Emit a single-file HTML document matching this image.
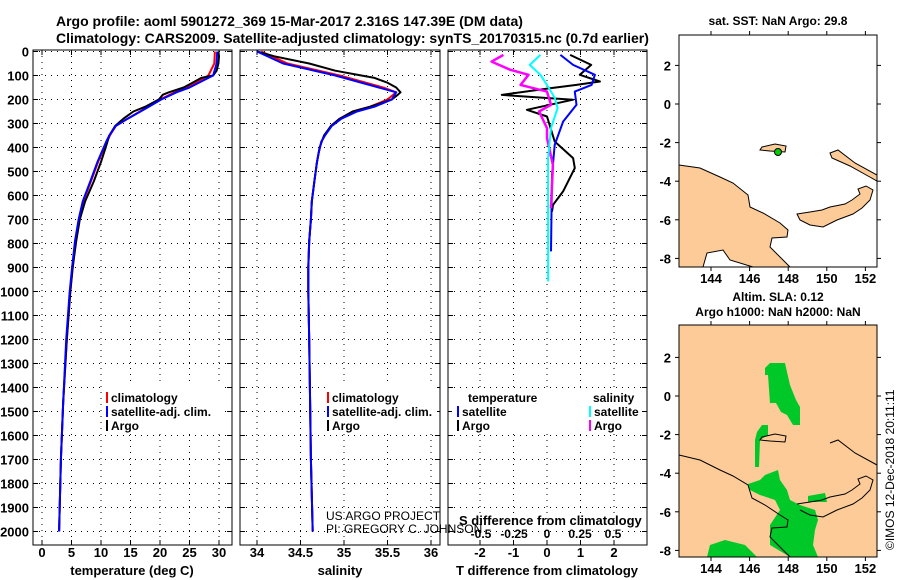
<!DOCTYPE html>
<html><head><meta charset="utf-8"><style>
body{margin:0;background:#fff;}
svg{display:block;font-family:"Liberation Sans",sans-serif;font-weight:bold;}
</style></head><body>
<svg id="fig" width="900" height="580" viewBox="0 0 900 580" xmlns="http://www.w3.org/2000/svg">
<text x="56" y="26" font-size="14">Argo profile: aoml 5901272_369 15-Mar-2017 2.316S 147.39E (DM data)</text>
<text x="56" y="43" font-size="14">Climatology: CARS2009. Satellite-adjusted climatology: synTS_20170315.nc (0.7d earlier)</text>
<g id="p1"></g>
<g id="p2"></g>
<g id="p3"></g>
<g id="m1"></g>
<g id="m2"></g>
</svg>
<script>
// ---- data ----
const depths = [0,50,100,150,170,200,230,250,280,310,350,375,420,460,540,625,700,790,900,1000,1200,1460,1700,2000];
const tempClim = [29.3,29.2,28.2,24.5,22.5,20,18,16.6,14.5,12.5,11.5,11,10.2,9.5,8.3,7,6.3,5.7,5.2,4.8,4.2,3.6,3.2,2.9];
const tempSat = [29.7,29.6,29,25,22.8,20.2,18.1,16.7,14.5,12.5,11.4,10.9,10.1,9.4,8.2,6.9,6.2,5.6,5.1,4.7,4.1,3.6,3.2,2.9];
const argoDepths = [0,20,50,80,100,110,130,150,170,180,200,230,250,280,310,350,400,460,540,625,700,790,900,1000,1200,1460,1700,2000];
const tempArgo = [29.9,30,29.9,29.6,29,27,25.5,24,21.5,20.5,19.8,17.5,15.5,13.8,12.4,11.4,10.8,10,8.8,7.3,6.4,5.8,5.2,4.8,4.2,3.6,3.2,2.9];
const salClim = [34.05,34.35,34.95,35.45,35.6,35.5,35.3,35.1,34.95,34.85,34.78,34.74,34.71,34.69,34.66,34.63,34.62,34.6,34.59,34.59,34.6,34.61,34.62,34.64];
const salSat = [34.0,34.3,34.9,35.4,35.6,35.55,35.35,35.15,34.97,34.86,34.78,34.74,34.71,34.69,34.66,34.63,34.62,34.6,34.59,34.59,34.6,34.61,34.62,34.64];
const salArgo = [34.0,34.2,34.6,34.9,35.2,35.35,35.5,35.6,35.65,35.62,35.55,35.3,35.1,34.95,34.85,34.77,34.72,34.69,34.66,34.63,34.62,34.6,34.59,34.59,34.6,34.61,34.62,34.64];
const dDepthArgoT = [14,56,97,125,139,153,181,201,243,271,375,444,486,583,639,667];
const dArgoT = [0.69,1.32,0.98,1.58,0.88,0.09,-1.35,0.78,-0.6,0,0.23,0.78,0.83,0.48,0.18,0.15];
const dDepthSatT = [14,56,97,139,167,222,292,389,514,833];
const dSatT = [0.4,0.78,1.43,1.33,0.83,0.88,0.48,0.23,0.15,0.12];
const dDepthSatS = [14,56,97,139,194,236,319,444,958];
const dSatS = [-0.05,-0.13,-0.05,0,0.06,0.08,0.03,0.008,0.008];
const dDepthArgoS = [14,42,76,97,139,167,222,250,319,361,472,653];
const dArgoS = [-0.33,-0.42,-0.28,-0.14,-0.2,0,0.03,-0.06,0,0,0.045,0.03];
const depthTicks = [0,100,200,300,400,500,600,700,800,900,1000,1100,1200,1300,1400,1500,1600,1700,1800,1900,2000];
const tTicks = [0,5,10,15,20,25,30];
const sTicks = [34,34.5,35,35.5,36];
const sTickLabels = ['34','34.5','35','35.5','36'];
const dTTicks = [-2,-1,0,1,2];
const dSTicks = [-0.5,-0.25,0,0.25,0.5];
const dSTickLabels = ['-0.5','-0.25','0','0.25','0.5'];
const lonTicks = [144,146,148,150,152];
const latTicks = [2,0,-2,-4,-6,-8];

const NS='http://www.w3.org/2000/svg';
function mk(parent,tag,attrs,name,text){
  const e=document.createElementNS(NS,tag);
  for(const k in attrs)e.setAttribute(k,attrs[k]);
  
  
  if(text!==undefined)e.textContent=text;
  parent.appendChild(e);return e;
}
const yD=d=>51.5+d*0.24;
function panel(g,x0,x1){
  mk(g,'rect',{x:x0,y:50,width:x1-x0,height:495,fill:'none',stroke:'#000','stroke-width':1},'plot-frame');
}
function hgrid(g,x0,x1,labels){
  depthTicks.forEach(d=>{
    const y=yD(d);
    mk(g,'line',{x1:x0,x2:x1,y1:y,y2:y,stroke:'#000','stroke-dasharray':'1,5','stroke-width':1},'depth-grid-line');
    mk(g,'line',{x1:x0,x2:x0+5,y1:y,y2:y,stroke:'#000'},'depth-tick');
    mk(g,'line',{x1:x1-5,x2:x1,y1:y,y2:y,stroke:'#000'},'depth-tick');
    if(labels)mk(g,'text',{x:x0-4,y:y+5,'font-size':13,'text-anchor':'end'},'depth-tick-label',String(d));
  });
}
function vgrid(g,ticks,fx,lab,ly){
  ticks.forEach((t,i)=>{
    const x=fx(t);
    mk(g,'line',{x1:x,x2:x,y1:50,y2:545,stroke:'#000','stroke-dasharray':'1,5'},'x-grid-line');
    mk(g,'line',{x1:x,x2:x,y1:540,y2:545,stroke:'#000'},'x-tick');
    mk(g,'line',{x1:x,x2:x,y1:50,y2:55,stroke:'#000'},'x-tick');
    if(lab)mk(g,'text',{x:x,y:ly,'font-size':13,'text-anchor':'middle'},'x-tick-label',lab[i]);
  });
}
function line(g,xs,ds,fx,col,w,name){
  const pts=xs.map((v,i)=>fx(v).toFixed(1)+','+yD(ds[i]).toFixed(1)).join(' ');
  mk(g,'polyline',{points:pts,fill:'none',stroke:col,'stroke-width':w,'stroke-linejoin':'round'},name);
}
function legend(g,x,y,col,txt,name){
  mk(g,'line',{x1:x,x2:x,y1:y-10,y2:y+1,stroke:col,'stroke-width':2},name+'-swatch');
  mk(g,'text',{x:x+4,y:y,'font-size':12},name+'-label',txt);
}
// Panel 1
const p1=document.getElementById('p1');
const xT=t=>42+t*5.9;
hgrid(p1,33,232,true);
vgrid(p1,tTicks,xT,tTicks.map(String),557);
line(p1,tempClim,depths,xT,'#f00',2,'climatology-temperature-line');
line(p1,tempArgo,argoDepths,xT,'#000',2,'argo-temperature-line');
line(p1,tempSat,depths,xT,'#00f',2,'satellite-temperature-line');
panel(p1,33,232);
mk(p1,'rect',{x:104,y:386,width:118,height:48,fill:'#fff'},'legend-bg');
legend(p1,107,402,'#f00','climatology','legend-climatology');
legend(p1,107,416,'#00f','satellite-adj. clim.','legend-satellite');
legend(p1,107,430,'#000','Argo','legend-argo');
mk(p1,'text',{x:132,y:575,'font-size':13,'text-anchor':'middle'},'x-axis-title','temperature (deg C)');
// Panel 2
const p2=document.getElementById('p2');
const xS=s=>257+(s-34)*87;
hgrid(p2,240,440,false);
vgrid(p2,sTicks,xS,sTickLabels,557);
line(p2,salClim,depths,xS,'#f00',2,'climatology-salinity-line');
line(p2,salArgo,argoDepths,xS,'#000',2,'argo-salinity-line');
line(p2,salSat,depths,xS,'#00f',2,'satellite-salinity-line');
panel(p2,240,440);
mk(p2,'rect',{x:325,y:386,width:112,height:48,fill:'#fff'},'legend-bg');
legend(p2,328,402,'#f00','climatology','legend-climatology');
legend(p2,328,416,'#00f','satellite-adj. clim.','legend-satellite');
legend(p2,328,430,'#000','Argo','legend-argo');
mk(p2,'text',{x:340,y:575,'font-size':13,'text-anchor':'middle'},'x-axis-title','salinity');
// Panel 3
const p3=document.getElementById('p3');
const xDT=t=>547+t*33.5;
const xDS=s=>547+s*132;
hgrid(p3,448,647,false);
vgrid(p3,dTTicks,xDT,dTTicks.map(String),557);
line(p3,dArgoT,dDepthArgoT,xDT,'#000',2,'argo-t-diff-line');
line(p3,dSatT,dDepthSatT,xDT,'#00f',2,'satellite-t-diff-line');
line(p3,dArgoS,dDepthArgoS,xDS,'#f0f',2.5,'argo-s-diff-line');
line(p3,dSatS,dDepthSatS,xDS,'#0ff',2,'satellite-s-diff-line');
panel(p3,448,647);
dSTicks.forEach((t,i)=>mk(p3,'text',{x:xDS(t),y:538,'font-size':12,'text-anchor':'middle'},'s-diff-tick-label',dSTickLabels[i]));
mk(p3,'rect',{x:452,y:390,width:190,height:44,fill:'#fff'},'legend-bg');
mk(p3,'text',{x:468,y:402,'font-size':12},'legend-temperature-header','temperature');
mk(p3,'text',{x:593,y:402,'font-size':12},'legend-salinity-header','salinity');
legend(p3,458,416,'#00f','satellite','legend-t-satellite');
legend(p3,458,430,'#000','Argo','legend-t-argo');
legend(p3,590,416,'#0ff','satellite','legend-s-satellite');
legend(p3,590,430,'#f0f','Argo','legend-s-argo');
mk(p3,'text',{x:459,y:525,'font-size':13},'s-diff-axis-title','S difference from climatology');
mk(p3,'text',{x:547,y:575,'font-size':13,'text-anchor':'middle'},'t-diff-axis-title','T difference from climatology');
mk(p3,'text',{x:326,y:520,'font-size':12,'font-weight':'normal'},'credit-project','US ARGO PROJECT');
mk(p3,'text',{x:326,y:533,'font-size':12,'font-weight':'normal'},'credit-pi','PI: GREGORY C. JOHNSON');
// Maps
const xLon=l=>711+(l-144)*19.3;
function mapAxes(g,y0,y1,yLat){
  lonTicks.forEach(l=>{
    const x=xLon(l);
    mk(g,'line',{x1:x,x2:x,y1:y0-4,y2:y0,stroke:'#000'},'lon-tick');
    mk(g,'line',{x1:x,x2:x,y1:y1,y2:y1+4,stroke:'#000'},'lon-tick');
    mk(g,'text',{x:x,y:y1+16,'font-size':13,'text-anchor':'middle'},'lon-tick-label',String(l));
  });
  latTicks.forEach(a=>{
    const y=yLat(a);
    mk(g,'line',{x1:675,x2:679,y1:y,y2:y,stroke:'#000'},'lat-tick');
    mk(g,'line',{x1:877,x2:881,y1:y,y2:y,stroke:'#000'},'lat-tick');
    mk(g,'text',{x:671,y:y+5,'font-size':13,'text-anchor':'end'},'lat-tick-label',String(a));
  });
  mk(g,'rect',{x:679,y:y0,width:198,height:y1-y0,fill:'none',stroke:'#000'},'map-frame');
}
const m1=document.getElementById('m1');
mk(m1,'text',{x:778,y:25,'font-size':12,'text-anchor':'middle'},'sst-map-title','sat. SST: NaN Argo: 29.8');
mk(m1,'rect',{x:679,y:35,width:198,height:232,fill:'#fff'},'map-ocean');
const landStyle={fill:'#fccb98',stroke:'#000','stroke-width':1};
mk(m1,'polygon',Object.assign({points:'679,165 700,168 720,177 733,183 748,195 750,207 763,213 780,223 788,230 787,237 772,238 770,247 783,260 790,267 753,267 730,260 723,250 707,253 703,267 679,267'},landStyle),'new-guinea-land');
mk(m1,'polygon',Object.assign({points:'797,214 810,212 822,210 830,207 845,204 852,200 860,194 858,189 866,186 873,190 870,200 862,208 853,214 837,220 823,227 810,225 800,220'},landStyle),'new-britain-land');
mk(m1,'polygon',Object.assign({points:'830,153 838,150 855,163 877,175 877,181 868,176 850,166 832,158'},landStyle),'new-ireland-land');
mk(m1,'polygon',Object.assign({points:'762,147 775,144 786,146 785,152 770,151 760,150'},landStyle),'manus-land');
mk(m1,'circle',{cx:778,cy:152,r:3.5,fill:'#0c0',stroke:'#000'},'argo-location-marker');
mapAxes(m1,35,267,a=>104-a*19.3);
const m2=document.getElementById('m2');
mk(m2,'text',{x:778,y:301,'font-size':12,'text-anchor':'middle'},'sla-map-title','Altim. SLA: 0.12');
mk(m2,'text',{x:778,y:316,'font-size':12,'text-anchor':'middle'},'sla-map-subtitle','Argo h1000: NaN h2000: NaN');
mk(m2,'rect',{x:679,y:325,width:198,height:232,fill:'#fccb98'},'map-background');
const green={fill:'#00c828'};
mk(m2,'polygon',Object.assign({points:'770,363 785,363 787,372 790,385 796,400 800,407 800,425 793,425 787,415 781,412 776,403 770,403 768,375 765,375 765,368'},green),'sla-patch-north');
mk(m2,'polygon',Object.assign({points:'762,425 768,425 768,435 760,440 759,467 755,467 755,440 757,432'},green),'sla-patch-middle');
mk(m2,'polygon',Object.assign({points:'765,475 778,470 780,480 787,490 790,500 800,505 815,510 818,520 815,530 813,545 818,557 790,557 770,545 770,525 780,510 775,500 760,495 750,490 748,484 760,480'},green),'sla-patch-south');
mk(m2,'polygon',Object.assign({points:'710,545 725,540 745,545 757,557 707,557'},green),'sla-patch-southwest');
mk(m2,'polygon',Object.assign({points:'808,496 825,493 827,502 808,502'},green),'sla-patch-east');
mk(m2,'polyline',{points:'679,455 700,460 720,470 733,476 748,485 752,498 765,505 780,515 788,520 787,527 772,528 770,537 783,550 790,557',fill:'none',stroke:'#000','stroke-width':1},'coastline-new-guinea');
mk(m2,'polyline',{points:'797,504 810,502 822,500 830,497 845,494 852,490 860,484 858,479 866,476 873,480 870,490 862,498 853,504 837,510 823,517 810,515 800,510',fill:'none',stroke:'#000','stroke-width':1},'coastline-new-britain');
mk(m2,'polyline',{points:'830,443 838,440 855,453 877,465',fill:'none',stroke:'#000','stroke-width':1},'coastline-new-ireland');
mk(m2,'polygon',{points:'762,437 775,434 786,436 785,442 770,441 760,440',fill:'none',stroke:'#000','stroke-width':1},'coastline-manus');
mapAxes(m2,325,557,a=>396-a*19.3);
mk(m2,'text',{x:0,y:0,'font-size':12,'font-weight':'normal',transform:'translate(894,550) rotate(-90)'},'timestamp-credit','©IMOS 12-Dec-2018 20:11:11');
</script>
</body></html>
